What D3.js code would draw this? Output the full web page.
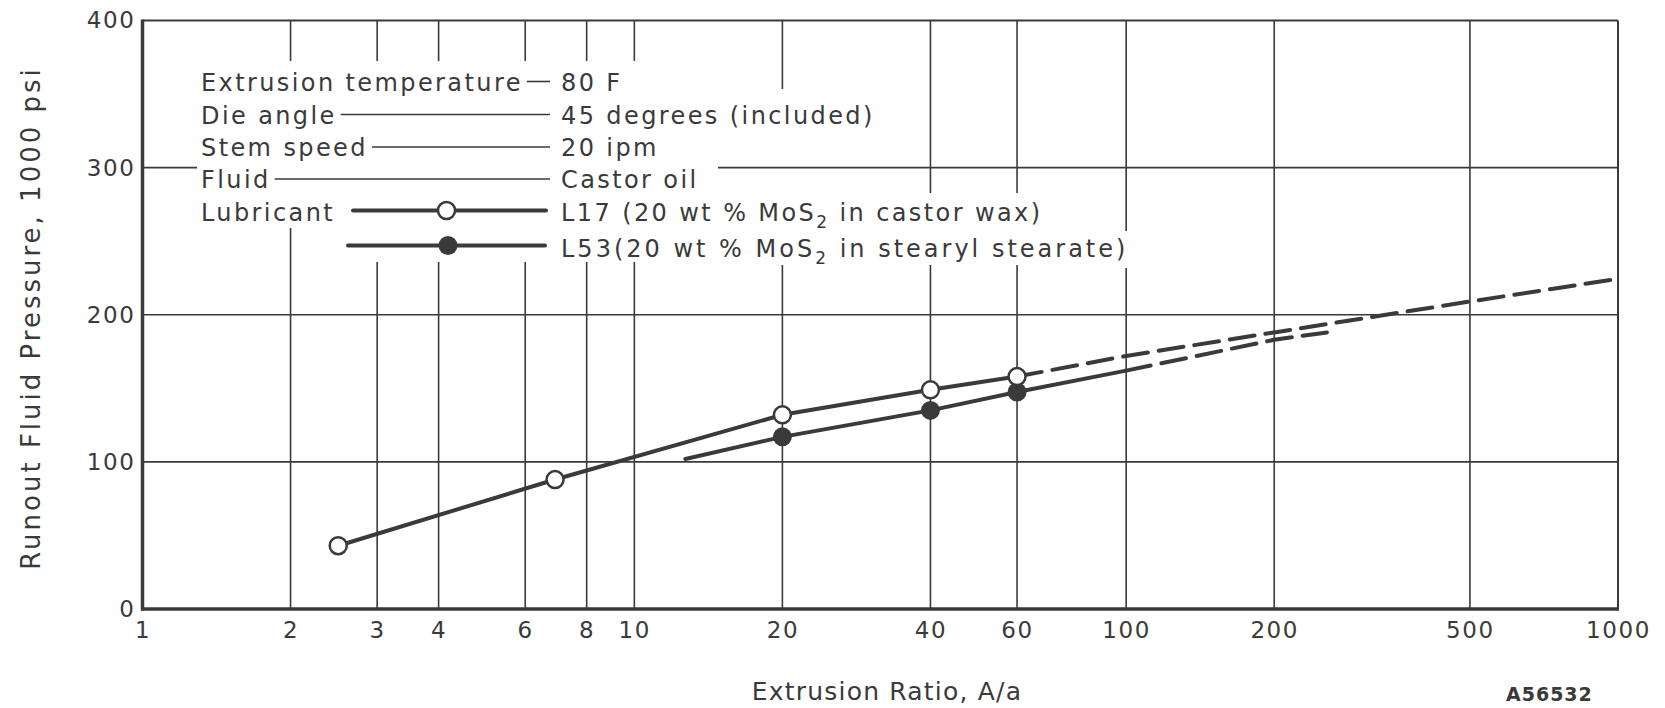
<!DOCTYPE html>
<html>
<head>
<meta charset="utf-8">
<script src="https://cdn.jsdelivr.net/npm/d3@7"></script>
<style>
  body { margin: 0; background: #fff; }
  text { font-family: "DejaVu Sans", sans-serif; fill: #3a3a3a; }
</style>
</head>
<body>
<script>
// axis ticks and grid
var xTicks = [1, 2, 3, 4, 6, 8, 10, 20, 40, 60, 100, 200, 500, 1000];
var xGrid = [2, 3, 4, 6, 8, 10, 20, 40, 60, 100, 200, 500];
var yTicks = [0, 100, 200, 300, 400];
var yGrid = [100, 200, 300];

// L17 (open circles)
var l17Ratio = [2.5, 6.9, 20, 40, 60];
var l17Pressure = [43, 88, 132, 149, 158];
var l17DashRatio = [60, 100, 200, 500, 980];
var l17DashPressure = [158, 172, 188, 209, 224];

// L53 (filled circles)
var l53Ratio = [20, 40, 60];
var l53Pressure = [117, 135, 147.5];
var l53LineRatio = [12.7, 20, 40, 60, 100];
var l53LinePressure = [102, 117, 135, 147.5, 162];
var l53DashRatio = [100, 200, 256];
var l53DashPressure = [162, 183, 188];

// legend block
var legendLabels = ["Extrusion temperature", "Die angle", "Stem speed", "Fluid", "Lubricant", ""];
var legendValues = ["80 F", "45 degrees (included)", "20 ipm", "Castor oil",
                    "L17 (20 wt % MoS_2 in castor wax)", "L53(20 wt % MoS_2 in stearyl stearate)"];

var width = 1665, height = 708;
var ink = "#3a3a3a";

var svg = d3.select("body").append("svg")
	.attr("width", width)
	.attr("height", height);

var x = d3.scaleLog().domain([1, 1000]).range([142.5, 1618]);
var y = d3.scaleLinear().domain([0, 400]).range([609, 20.5]);

// vertical grid
svg.append("g").selectAll("line")
	.data(xGrid).join("line")
	.attr("x1", d => x(d)).attr("x2", d => x(d))
	.attr("y1", y(400)).attr("y2", y(0))
	.attr("stroke", ink).attr("stroke-width", 1.6);

// white patches where the legend sits over the grid
var blanks = [[190, 61, 460, 167], [340, 228, 310, 34], [650, 89, 245, 176],
              [895, 193, 150, 72], [1045, 231, 90, 37]];
svg.append("g").selectAll("rect")
	.data(blanks).join("rect")
	.attr("x", d => d[0]).attr("y", d => d[1])
	.attr("width", d => d[2]).attr("height", d => d[3])
	.attr("fill", "#fff");

// horizontal grid
svg.append("g").selectAll("line")
	.data(yGrid).join("line")
	.attr("x1", x(1)).attr("x2", x(1000))
	.attr("y1", d => y(d)).attr("y2", d => y(d))
	.attr("stroke", ink).attr("stroke-width", 1.6);

// the 300 line is broken by "Fluid ---- Castor oil"
svg.append("rect")
	.attr("x", 197).attr("y", y(300) - 7)
	.attr("width", 521).attr("height", 14)
	.attr("fill", "#fff");

// frame: heavy left & bottom, light top & right
svg.append("line").attr("x1", x(1)).attr("x2", x(1000)).attr("y1", y(400)).attr("y2", y(400))
	.attr("stroke", ink).attr("stroke-width", 2);
svg.append("line").attr("x1", x(1000)).attr("x2", x(1000)).attr("y1", y(400)).attr("y2", y(0))
	.attr("stroke", ink).attr("stroke-width", 2);
svg.append("line").attr("x1", x(1)).attr("x2", x(1)).attr("y1", y(400) - 1).attr("y2", y(0) + 1.5)
	.attr("stroke", ink).attr("stroke-width", 3.5);
svg.append("line").attr("x1", x(1) - 1.5).attr("x2", x(1000) + 1).attr("y1", y(0)).attr("y2", y(0))
	.attr("stroke", ink).attr("stroke-width", 3.5);

// tick labels
var xAxis = svg.append("g")
	.attr("transform", "translate(0," + y(0) + ")")
	.call(d3.axisBottom(x).tickValues(xTicks).tickFormat(d3.format("d")).tickSize(0).tickPadding(13));
var yAxis = svg.append("g")
	.attr("transform", "translate(" + x(1) + ",0)")
	.call(d3.axisLeft(y).tickValues(yTicks).tickSize(0).tickPadding(7));
[xAxis, yAxis].forEach(function(g) {
	g.select(".domain").remove();
	g.selectAll("text")
		.attr("fill", ink)
		.style("font-family", "DejaVu Sans")
		.style("font-size", "23px")
		.style("letter-spacing", "1.6px");
});

// axis titles
svg.append("text")
	.attr("x", 887).attr("y", 700)
	.attr("text-anchor", "middle")
	.style("font-size", "25px")
	.style("letter-spacing", "1.2px")
	.text("Extrusion Ratio, A/a");

svg.append("text")
	.attr("transform", "translate(40,318) rotate(-90)")
	.attr("text-anchor", "middle")
	.style("font-size", "26px")
	.style("letter-spacing", "3px")
	.text("Runout Fluid Pressure, 1000 psi");

svg.append("text")
	.attr("x", 1506).attr("y", 701)
	.style("font-size", "19px")
	.style("font-weight", "bold")
	.style("letter-spacing", "1px")
	.text("A56532");

// legend
var rowBase = [90.5, 123.5, 156, 188, 220.5, 257];
var leg = svg.append("g").style("font-size", "24px").style("letter-spacing", "2.4px");

legendLabels.forEach(function(lab, i) {
	var t = leg.append("text").attr("x", 201).attr("y", rowBase[i]).text(lab);
	if (i < 4) {
		var end = lab ? t.node().getBBox().x + t.node().getBBox().width : 201;
		leg.append("line")
			.attr("x1", end + 4).attr("x2", 550)
			.attr("y1", rowBase[i] - 9).attr("y2", rowBase[i] - 9)
			.attr("stroke", ink).attr("stroke-width", 1.6);
	}
	var v = leg.append("text").attr("x", 561).attr("y", rowBase[i]);
	if (i == 5) v.style("letter-spacing", "3px");
	var parts = legendValues[i].split("_2");
	v.append("tspan").text(parts[0]);
	if (parts.length > 1) {
		v.append("tspan").attr("dy", 7).style("font-size", "17px").text("2");
		v.append("tspan").attr("dy", -7).text(parts[1]);
	}
});

// legend sample lines for the two lubricants
leg.append("line").attr("x1", 353).attr("x2", 546)
	.attr("y1", rowBase[4] - 10).attr("y2", rowBase[4] - 10)
	.attr("stroke", ink).attr("stroke-width", 4).attr("stroke-linecap", "round");
leg.append("circle").attr("cx", 446.5).attr("cy", rowBase[4] - 10).attr("r", 8.5)
	.attr("fill", "#fff").attr("stroke", ink).attr("stroke-width", 2.5);
leg.append("line").attr("x1", 348).attr("x2", 545)
	.attr("y1", rowBase[5] - 11.5).attr("y2", rowBase[5] - 11.5)
	.attr("stroke", ink).attr("stroke-width", 4).attr("stroke-linecap", "round");
leg.append("circle").attr("cx", 448).attr("cy", rowBase[5] - 11.5).attr("r", 9.5)
	.attr("fill", ink);

// data curves
var line = d3.line().x(d => x(d[0])).y(d => y(d[1]));

function drawPath(xs, ys, dashed) {
	svg.append("path")
		.datum(d3.zip(xs, ys))
		.attr("d", line)
		.attr("fill", "none")
		.attr("stroke", ink)
		.attr("stroke-width", 4)
		.attr("stroke-linecap", "round")
		.attr("stroke-dasharray", dashed ? "25 11" : null);
}

drawPath(l17DashRatio, l17DashPressure, true);
drawPath(l53DashRatio, l53DashPressure, true);
drawPath(l53LineRatio, l53LinePressure, false);
drawPath(l17Ratio, l17Pressure, false);

svg.append("g").selectAll("circle")
	.data(d3.zip(l53Ratio, l53Pressure)).join("circle")
	.attr("cx", d => x(d[0])).attr("cy", d => y(d[1]))
	.attr("r", 9.5).attr("fill", ink);

svg.append("g").selectAll("circle")
	.data(d3.zip(l17Ratio, l17Pressure)).join("circle")
	.attr("cx", d => x(d[0])).attr("cy", d => y(d[1]))
	.attr("r", 8.5).attr("fill", "#fff")
	.attr("stroke", ink).attr("stroke-width", 2.5);
</script>
</body>
</html>
